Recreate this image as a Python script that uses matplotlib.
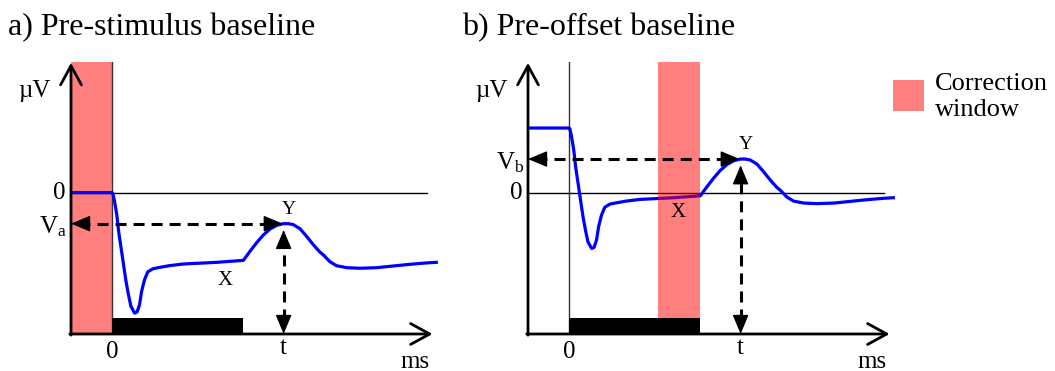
import numpy as np
import matplotlib
matplotlib.use("Agg")
import matplotlib.pyplot as plt
from matplotlib.patches import Rectangle

plt.rcParams['font.family'] = 'Liberation Serif'
plt.rcParams['mathtext.fontset'] = 'custom'
plt.rcParams['mathtext.rm'] = 'Liberation Serif'
plt.rcParams['mathtext.it'] = 'Liberation Serif:italic'

# ERP waveform (ms, µV, pre-stimulus baseline = 0)
time_ms = [-100, 0, 2, 6, 11.5, 16, 22, 28, 34, 40,
           46, 55, 61, 67, 72, 79, 87, 99, 112, 139,
           173, 214, 255, 320, 336, 352, 368, 385, 401, 417,
           429, 441, 458, 474, 490, 506, 515, 531, 547, 572,
           604, 645, 685, 726, 767, 790]
amp_a = [0, 0, -0.03, -0.30, -0.78, -1.37, -1.96, -2.55, -3.14, -3.62,
         -4.03, -4.27, -4.23, -3.97, -3.50, -3.09, -2.81, -2.70, -2.66, -2.59,
         -2.53, -2.50, -2.47, -2.40, -2.08, -1.78, -1.51, -1.29, -1.16, -1.10,
         -1.10, -1.13, -1.28, -1.55, -1.84, -2.10, -2.21, -2.45, -2.59, -2.66,
         -2.68, -2.66, -2.60, -2.54, -2.49, -2.47]
# same waveform after pre-offset baseline correction (shift)
offset_b = 2.29
amp_b = [v + offset_b for v in amp_a]

window_a = (-100, 0)      # pre-stimulus window
window_b = (217, 320)     # pre-offset window
stimulus = (0, 320)       # stimulus on / off
t_peak = 418              # latency of Y

titles = ['a) Pre-stimulus baseline', 'b) Pre-offset baseline']
v_labels = [r'$\mathregular{V_a}$', r'$\mathregular{V_b}$']

W, H = 1055, 371
xlim = (-100, 799)
ylim = (-5.01, 4.63)

fig = plt.figure(figsize=(W / 100, H / 100), dpi=100)
ax_a = fig.add_axes([71 / W, 37 / H, 369 / W, 272 / H])
ax_b = fig.add_axes([528 / W, 37 / H, 369 / W, 272 / H])


def panel(ax, amp, window, vlab, x_lab, y_lab, curve_z):
    ax.set_xlim(*xlim)
    ax.set_ylim(*ylim)
    ax.axis('off')
    t = np.array(time_ms)
    v = np.array(amp)
    ax.plot([0, 0], [ylim[0], 4.63], color='#333333', lw=1, zorder=2)
    ax.plot([-100, 767], [0, 0], color='black', lw=1, zorder=2)
    ax.plot(t, v, color='#0000ff', lw=2.3, zorder=curve_z)
    ax.axvspan(window[0], window[1], color='red', alpha=0.5, lw=0, zorder=4)
    ax.fill_between(list(stimulus), ylim[0], -4.44, color='black', lw=0, zorder=5)
    # axes arrows
    ap = dict(arrowstyle='->,head_length=0.55,head_width=0.3', mutation_scale=25,
              lw=2, color='black', shrinkA=0, shrinkB=0)
    ax.annotate('', xy=(-100, 4.6), xytext=(-100, ylim[0] - 0.04), arrowprops=ap,
                annotation_clip=False, zorder=6)
    ax.annotate('', xy=(781, ylim[0]), xytext=(-103, ylim[0]), arrowprops=ap,
                annotation_clip=False, zorder=6)
    # peak amplitude (horizontal) and latency (vertical) markers
    vpk = v[t > 300].max()
    hd = dict(arrowstyle='-|>,head_length=0.6,head_width=0.25', mutation_scale=20,
              lw=1, color='black', shrinkA=0, shrinkB=0)
    dash = dict(color='black', lw=2.2, dashes=(3.6, 2.3), zorder=6)
    ax.plot([-80, t_peak - 30], [vpk, vpk], **dash)
    ax.plot([t_peak, t_peak], [ylim[0] + 0.5, vpk - 0.6], **dash)
    for xy, off in [((-100, vpk), (13, 0)), ((t_peak - 2, vpk), (-13, 0)),
                    ((t_peak, vpk - 0.22), (0, -13)), ((t_peak, ylim[0]), (0, 13))]:
        ax.annotate('', xy=xy, xytext=off, textcoords='offset points', arrowprops=hd,
                    annotation_clip=False, zorder=7)
    fs = 18
    tk = dict(ha='center', va='center', zorder=8)
    ax.text(-189, 3.6, 'µV', fontsize=fs, **tk)
    ax.text(-113, 0, '0', fontsize=fs, ha='right', va='center', zorder=8)
    ax.text(-110, vpk - 0.12, vlab, fontsize=fs, ha='right', va='center', zorder=8)
    ax.text(t_peak + 12, vpk + 0.52, 'Y', fontsize=14, **tk)
    ax.text(x_lab, y_lab, 'X', fontsize=15, **tk)
    ax.text(0, -5.65, '0', fontsize=fs, **tk)
    ax.text(t_peak, -5.52, 't', fontsize=fs, **tk)
    ax.text(738, -6.22, 'ms', fontsize=fs, ha='center', va='baseline', zorder=8)


panel(ax_a, amp_a, window_a, v_labels[0], 275, -3.13, curve_z=4.5)
panel(ax_b, amp_b, window_b, v_labels[1], 266, -0.72, curve_z=3)

fig.text(8 / W, 1 - 28 / H, titles[0], fontsize=23, ha='left', va='center')
fig.text(462 / W, 1 - 28 / H, titles[1], fontsize=23, ha='left', va='center')

# legend key
fig.add_artist(Rectangle((893 / W, 1 - 111 / H), 31 / W, 31 / H,
                         transform=fig.transFigure, color='red', alpha=0.5, lw=0))
fig.text(935 / W, 1 - 97 / H, 'Correction\nwindow', fontsize=19, ha='left',
         va='center', linespacing=1.2)

fig.savefig('out.png', dpi=100)
